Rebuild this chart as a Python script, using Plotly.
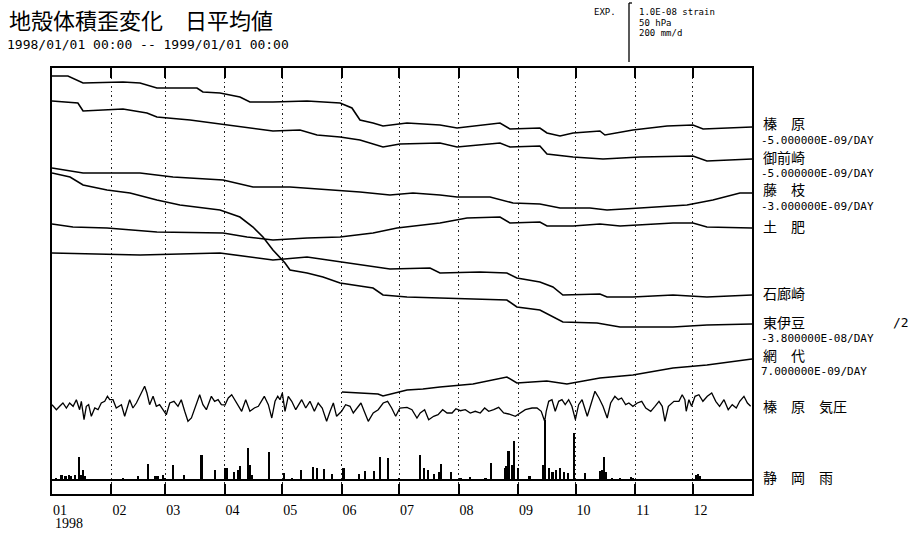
import pandas as pd
import plotly.graph_objects as go

START = pd.Timestamp("1998-01-01")
END = pd.Timestamp("1999-01-01")

# ---------------- data (x = days since 1998-01-01, y = chart offset units)
month_labels = ["01", "02", "03", "04", "05", "06", "07", "08", "09", "10", "11", "12"]
year_label = "1998"

haibara_day = [0, 8.3, 16.2, 37, 45.9, 54.7, 75.6, 78.7, 87.6, 98, 103.2, 115.2, 133, 150.2, 156.4,
               160.6, 167.4, 172.6, 185.1, 202.3, 211.2, 233.6, 238.8, 254.4, 258.1, 264.9, 271.7,
               285.7, 288.3, 302.9, 320.7, 334.2, 339.5, 365]
haibara_val = [76, 76, 83, 82, 83, 88, 88, 92, 93, 97, 102, 102, 101, 103, 108, 120, 123, 126, 123,
               125, 128, 123, 129, 128, 133, 136, 133, 131, 135, 130, 126, 125, 129, 127]

omaezaki_day = [0, 13.5, 16.2, 37, 49.5, 54.7, 72, 91.2, 101.7, 115.2, 129.3, 138.2, 150.2, 160.6,
                172.6, 181.4, 202.3, 211.2, 233.6, 238.8, 254.4, 258.1, 271.7, 287.3, 306.6, 334.2,
                341.5, 365]
omaezaki_val = [101, 103, 111, 109, 113, 117, 120, 125, 128, 131, 130, 135, 137, 140, 147, 144, 143,
                147, 143, 147, 146, 154, 157, 159, 157, 156, 161, 159]

fujieda_day = [0, 16.2, 45.9, 63.1, 89.2, 104.8, 124.1, 146.5, 160.6, 176.2, 188.2, 202.3, 211.2,
               228.4, 240.4, 254.4, 264.9, 280.5, 289.4, 306.6, 331.1, 344.6, 358.7, 365]
fujieda_val = [168, 173, 173, 177, 180, 187, 187, 190, 192, 195, 193, 195, 197, 197, 203, 204, 208,
               208, 210, 208, 205, 200, 193, 193]

toi_day = [0, 10.9, 28.7, 54.7, 89.2, 101.7, 115.2, 133, 150.2, 167.4, 179.9, 193.4, 202.3, 216.4,
           233.6, 238.8, 254.4, 258.1, 271.7, 285.7, 296.2, 323.8, 334.2, 341.5, 365]
toi_val = [224, 227, 228, 232, 233, 237, 240, 238, 237, 233, 228, 225, 223, 218, 217, 223, 222, 226,
           226, 224, 226, 223, 223, 227, 228]

irozaki_day = [0, 45.9, 87.6, 115.2, 133, 150.2, 176.2, 197.1, 202.3, 223.2, 237.2, 242.4, 254.4,
               261.2, 266.4, 285.7, 289.4, 302.9, 323.8, 341.5, 365]
irozaki_val = [253, 255, 253, 260, 257, 262, 269, 268, 273, 272, 273, 278, 282, 287, 295, 294, 297,
               297, 295, 297, 295]

higashiizu_day = [0, 9.4, 16.2, 28.7, 40.7, 54.7, 66.7, 87.6, 98, 104.8, 110, 115.2, 121.5, 124.1,
                  133, 141.3, 150.2, 167.4, 172.6, 185.1, 202.3, 237.2, 242.4, 254.4, 266.4, 284.2,
                  296.2, 323.8, 341.5, 365]
higashiizu_val = [173, 177, 185, 190, 193, 200, 205, 210, 217, 227, 237, 250, 263, 270, 273, 277,
                  283, 288, 295, 297, 298, 300, 307, 310, 322, 323, 327, 327, 325, 324]

ajiro_day = [151.2, 170, 172.6, 185.1, 193.4, 202.3, 219.5, 233.6, 237.2, 242.4, 258, 268.5, 275,
             285.7, 302.9, 323.8, 341.5, 365]
ajiro_val = [392, 394, 396, 390, 389, 387, 384, 378, 377, 383, 381, 384, 382, 378, 375, 368, 365, 359]

pressure_day = [0, 2.3, 4.0, 5.7, 7.5, 9.2, 11.0, 12.7, 14.4, 15.3, 16.7, 17.9, 19.1, 20.5, 22.3,
                24.0, 25.7, 27.5, 28.9, 30.1, 31.8, 33.5, 36.2, 37.9, 40.5, 42.2, 44.0, 45.7, 46.9,
                48.3, 49.5, 50.9, 52.7, 54.4, 56.1, 57.9, 59.6, 61.4, 63.6, 65.7, 67.4, 69.2, 70.9,
                72.7, 74.4, 77.0, 78.7, 80.5, 83.1, 84.8, 86.6, 88.3, 90.2, 91.9, 93.7, 96.3, 98.9,
                101.0, 103.2, 105.5, 107.6, 110.7, 112.8, 114.6, 116.3, 117.7, 118.9, 120.1, 121.5,
                123.2, 125.0, 127.1, 130.2, 132.3, 134.5, 136.8, 138.8, 140.9, 143.2, 145.0, 146.7,
                148.4, 151.0, 153.1, 155.4, 157.1, 158.9, 161.1, 162.8, 164.9, 167.5, 170.1, 172.7,
                175.0, 177.1, 179.2, 181.4, 185.1, 187.7, 190.3, 192.0, 194.3, 196.4, 199.0, 201.3,
                203.7, 206.0, 208.6, 210.6, 212.9, 215.5, 218.1, 220.7, 223.3, 225.6, 227.7, 230.3,
                232.9, 235.5, 238.1, 241.6, 244.2, 246.8, 250.3, 252.9, 255.1, 256.9, 257.7, 259.0,
                260.7, 262.4, 264.2, 265.9, 267.6, 269.4, 271.1, 272.9, 274.6, 276.4, 279.1, 280.9,
                283.1, 285.2, 287.3, 289.5, 291.3, 293.5, 295.3, 297.0, 299.1, 300.8, 302.9, 305.2,
                307.5, 309.6, 312.2, 314.4, 316.5, 318.2, 319.6, 321.4, 324.3, 326.9, 328.6, 330.0,
                330.7, 332.1, 333.5, 335.3, 337.3, 339.4, 341.7, 344.0, 346.1, 348.1, 350.4, 352.6,
                354.7, 356.8, 358.6, 360.8, 362.6, 364.3]
pressure_val = [404.7, 409.7, 406.3, 403, 408, 403, 406.3, 399.7, 409.7, 401.3, 419.7, 406.3, 404.7,
                416.3, 408, 409.7, 403, 401.3, 396.3, 399.7, 399.7, 408, 404.7, 416.3, 399.7, 408,
                403, 396.3, 393, 386.3, 393, 404.7, 396.3, 406.3, 404.7, 409.7, 414.7, 403, 401.3,
                406.3, 399.7, 411.3, 421.3, 418, 408, 394.7, 404.7, 409.7, 396.3, 401.3, 399.7,
                404.7, 405, 398, 394.7, 403, 411.3, 399.7, 411.3, 408, 406.3, 396.3, 404.7, 418,
                401.3, 396.3, 399.7, 393, 411.3, 396.3, 401.3, 409.7, 399.7, 408, 401.3, 411.3, 403,
                408, 421.3, 411.3, 403, 416.3, 411.3, 404.7, 406.3, 413, 408, 403, 411.3, 421.3, 413,
                409.7, 403, 401.3, 408, 416.3, 408, 407.3, 409.7, 418, 413, 409.7, 419.7, 416.3,
                414.7, 409.7, 413, 413, 408.7, 410.7, 409.7, 413, 411.3, 413, 408, 411.3, 409.7,
                407.3, 413, 414, 416.3, 413, 409.7, 408, 408, 411.3, 421.3, 411.3, 401.3, 399.7,
                411.3, 401.3, 399.7, 404.7, 399.7, 406.3, 419.7, 404.7, 399.7, 416.3, 404.7, 391.3,
                398, 406.3, 418, 403, 396.3, 399.7, 398, 404.7, 403, 406.3, 403, 401.3, 408, 411.3,
                406.3, 401.3, 406.3, 421.3, 406.3, 401.3, 401.3, 394.7, 399.7, 411.3, 399.7, 406.3,
                396.3, 394.7, 401.3, 396.3, 393, 401.3, 406.3, 399.7, 409.7, 404.7, 408, 401.3,
                396.3, 403, 406.3]

rain_day = [2, 5, 7, 9, 10, 12, 14, 15, 16, 17, 37, 41, 45, 50, 54, 55, 58, 59, 63, 69, 78, 85, 90,
            91, 95, 97, 98, 102, 103, 104, 113, 121, 125, 130, 136, 138, 142, 146, 152, 160, 163,
            168, 171, 175, 181, 192, 194, 196, 199, 202, 203, 208, 213, 218, 226, 229, 236, 237,
            238, 240, 241, 243, 249, 256, 257, 259, 261, 263, 265, 267, 269, 272, 278, 286, 287,
            288, 289, 292, 296, 302, 303, 336, 337, 338]
rain_mm = [7, 17, 14, 17, 14, 17, 79, 17, 35, 14, 5, 3, 15, 55, 13, 14, 18, 7, 52, 18, 85, 35, 43,
           43, 28, 35, 47, 110, 52, 17, 97, 24, 7, 36, 44, 41, 38, 20, 42, 20, 31, 31, 80, 77, 8,
           86, 41, 35, 21, 28, 55, 28, 7, 10, 7, 59, 41, 48, 100, 52, 133, 41, 14, 52, 207, 42, 28,
           35, 42, 28, 23, 162, 23, 31, 35, 78, 28, 7, 4, 10, 7, 18, 22, 14]

station_labels = ["榛　原", "御前崎", "藤　枝", "土　肥", "石廊崎", "東伊豆", "網　代", "榛　原　気圧", "静　岡　雨"]
rate_labels = ["-5.000000E-09/DAY", "-5.000000E-09/DAY", "-3.000000E-09/DAY",
               "-3.800000E-08/DAY", "7.000000E-09/DAY"]
scale_labels = ["1.0E-08 strain", "50 hPa", "200 mm/d"]


def to_dates(days):
    return [START + pd.Timedelta(days=d) for d in days]


month_starts = [pd.Timestamp(1998, m, 1) for m in range(1, 13)]

# ---------------- layout geometry (pixels)
W, H = 908, 533
L, R, T, B = 52, 752, 68, 494


def pxx(px):
    return (px - L) / (R - L)


def pxy(py):
    return (B - py) / (B - T)


fig = go.Figure()
strain_line = dict(color="black", width=1.6)
for d, v in [(haibara_day, haibara_val), (omaezaki_day, omaezaki_val), (fujieda_day, fujieda_val),
             (toi_day, toi_val), (irozaki_day, irozaki_val), (higashiizu_day, higashiizu_val),
             (ajiro_day, ajiro_val)]:
    fig.add_trace(go.Scatter(x=to_dates(d), y=v, mode="lines", line=strain_line,
                             hoverinfo="skip", showlegend=False))

fig.add_trace(go.Scatter(x=to_dates(pressure_day), y=pressure_val, mode="lines",
                         line=dict(color="black", width=1.3), hoverinfo="skip", showlegend=False))

fig.add_trace(go.Bar(x=to_dates(rain_day), y=rain_mm, yaxis="y2",
                     width=1.15 * 86400000, marker=dict(color="black", line=dict(width=0)),
                     hoverinfo="skip", showlegend=False))

# rain axis: 200 mm/d corresponds to the scale bar (58 px); zero sits 14 px above the bottom frame
mm_per_px = 200 / 58.0
rain_range = [-(B - 480) * mm_per_px, (480 - T) * mm_per_px]

fig.update_layout(
    width=W, height=H, autosize=False,
    margin=dict(l=L, r=W - R, t=T, b=H - B, pad=0),
    paper_bgcolor="white", plot_bgcolor="white",
    showlegend=False, bargap=0,
    xaxis=dict(type="date", range=[START, END], tickvals=month_starts, ticktext=month_labels,
               ticks="inside", ticklen=10, tickwidth=1.5, tickcolor="black",
               showline=True, linecolor="black", linewidth=1.5, mirror="ticks",
               showgrid=True, gridcolor="#222222", gridwidth=1, griddash="1.5px,3px",
               zeroline=False, ticklabelshift=8, ticklabelstandoff=2,
               tickfont=dict(family="Liberation Serif", size=14, color="black")),
    yaxis=dict(range=[B, T], showticklabels=False, ticks="", showgrid=False, zeroline=False,
               showline=True, linecolor="black", linewidth=1.5, mirror=True),
    yaxis2=dict(overlaying="y", side="right", range=rain_range, showticklabels=False, ticks="",
                showgrid=False, showline=False, zeroline=True, zerolinecolor="black",
                zerolinewidth=1.5),
)

ann = []
jp = "Noto Sans CJK JP"
mono = "DejaVu Sans Mono"

ann.append(dict(text="地殻体積歪変化　日平均値", x=pxx(7), y=pxy(19), xanchor="left", yanchor="middle",
                font=dict(family=jp, size=22, color="black")))
ann.append(dict(text="1998/01/01 00:00 -- 1999/01/01 00:00", x=pxx(5), y=pxy(44), xanchor="left",
                yanchor="middle", font=dict(family=mono, size=13, color="black")))
ann.append(dict(text="EXP.", x=pxx(618), y=pxy(12), xanchor="right", yanchor="middle",
                font=dict(family=mono, size=9, color="black")))
for txt, py in zip(scale_labels, [12, 23, 33]):
    ann.append(dict(text=txt, x=pxx(637), y=pxy(py), xanchor="left", yanchor="middle",
                    font=dict(family=mono, size=9, color="black")))

station_y = [123, 157, 189, 226, 293, 322, 355, 406, 477]
for txt, py in zip(station_labels, station_y):
    ann.append(dict(text=txt, x=pxx(761), y=pxy(py), xanchor="left", yanchor="middle",
                    font=dict(family=jp, size=14, color="black")))
rate_y = [140, 173, 206, 338, 371]
for txt, py in zip(rate_labels, rate_y):
    ann.append(dict(text=txt, x=pxx(759), y=pxy(py), xanchor="left", yanchor="middle",
                    font=dict(family=mono, size=11, color="black")))
ann.append(dict(text="/2", x=pxx(891), y=pxy(322), xanchor="left", yanchor="middle",
                font=dict(family=mono, size=13, color="black")))
ann.append(dict(text=year_label, x=pxx(53), y=pxy(523), xanchor="left", yanchor="middle",
                font=dict(family="Liberation Serif", size=14, color="black")))

for a in ann:
    a.update(xref="paper", yref="paper", showarrow=False)
fig.update_layout(annotations=ann)

# scale bar next to "EXP."
fig.add_shape(type="line", xref="paper", yref="paper", x0=pxx(629), x1=pxx(629),
              y0=pxy(3), y1=pxy(62), line=dict(color="black", width=1.3))
fig.add_shape(type="line", xref="paper", yref="paper", x0=pxx(629), x1=pxx(632),
              y0=pxy(3), y1=pxy(3), line=dict(color="black", width=1.3))

fig.write_html("out.html", config={"displayModeBar": False},
               post_script="document.body.style.margin='0';document.body.style.overflow='hidden';")
